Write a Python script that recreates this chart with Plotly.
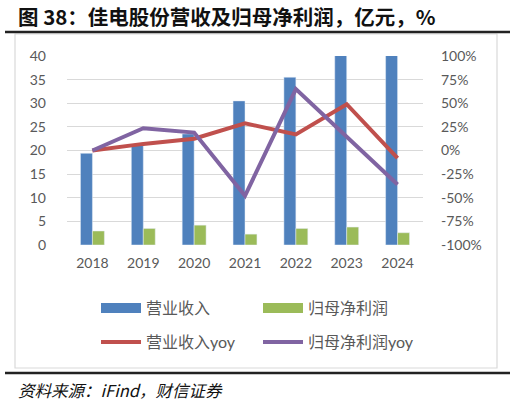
import plotly.graph_objects as go

years = ["2018", "2019", "2020", "2021", "2022", "2023", "2024"]
revenue = [19.4, 21.3, 23.5, 30.5, 35.5, 53.0, 49.0]          # 营业收入, 亿元 (2023/2024 exceed axis)
net_profit = [2.96, 3.5, 4.2, 2.3, 3.5, 3.8, 2.6]             # 归母净利润, 亿元
revenue_yoy = [0.0, 7.0, 12.5, 28.8, 17.0, 49.0, -8.0]        # 营业收入yoy, %
profit_yoy = [0.0, 23.5, 19.0, -48.0, 65.0, 14.6, -36.0]      # 归母净利润yoy, %
left_ticks = [0, 5, 10, 15, 20, 25, 30, 35, 40]
right_ticks = [-100, -75, -50, -25, 0, 25, 50, 75, 100]
right_labels = [f"{v}%" for v in right_ticks]

BLUE, GREEN, RED, PURPLE = "#4F81BD", "#9BBB59", "#C0504D", "#8064A2"
GRAY = "#595959"
FONT = "Lato, Noto Sans CJK SC"

W, H = 515, 405
L, R, T, B = 67, 92, 56, 160
PW, PH = W - L - R, H - T - B


def px(x):
    return (x - L) / PW


def py(y):
    return (H - B - y) / PH


fig = go.Figure()
fig.add_bar(x=years, y=revenue, marker_color=BLUE, showlegend=False, name="营业收入")
fig.add_bar(x=years, y=net_profit, marker_color=GREEN, showlegend=False, name="归母净利润")
fig.add_scatter(x=years, y=revenue_yoy, yaxis="y2", mode="lines",
                line=dict(color=RED, width=4), showlegend=False, name="营业收入yoy")
fig.add_scatter(x=years, y=profit_yoy, yaxis="y2", mode="lines",
                line=dict(color=PURPLE, width=4), showlegend=False, name="归母净利润yoy")

# legend entries
fig.add_scatter(x=[None], y=[None], mode="lines", line=dict(color=BLUE, width=10),
                name="营业收入", legend="legend")
fig.add_scatter(x=[None], y=[None], mode="lines", line=dict(color=GREEN, width=10),
                name="归母净利润", legend="legend")
fig.add_scatter(x=[None], y=[None], mode="lines", line=dict(color=RED, width=4),
                name="营业收入yoy", legend="legend2")
fig.add_scatter(x=[None], y=[None], mode="lines", line=dict(color=PURPLE, width=4),
                name="归母净利润yoy", legend="legend2")

legend_common = dict(orientation="h", xanchor="left", yanchor="middle",
                     font=dict(family=FONT, size=16, color=GRAY),
                     bgcolor="rgba(0,0,0,0)", entrywidth=107, itemwidth=40,
                     traceorder="normal")

fig.update_layout(
    width=W, height=H,
    margin=dict(l=L, r=R, t=T, b=B),
    paper_bgcolor="white", plot_bgcolor="white",
    barmode="group", bargap=0.53, bargroupgap=0,
    font=dict(family=FONT, size=14, color=GRAY),
    xaxis=dict(type="category", showgrid=False, showline=False, ticks="",
               tickfont=dict(size=14, color=GRAY), ticklabelstandoff=8),
    yaxis=dict(range=[0, 40], tickvals=left_ticks, showgrid=True,
               gridcolor="#D9D9D9", gridwidth=1.3, zeroline=False,
               showline=False, ticks="", ticklabelstandoff=20,
               tickfont=dict(size=14, color=GRAY)),
    yaxis2=dict(range=[-100, 100], tickmode="array", tickvals=right_ticks,
                ticktext=right_labels,
                overlaying="y", side="right", showgrid=False, zeroline=False,
                showline=False, ticks="", ticklabelstandoff=17,
                tickfont=dict(size=14, color=GRAY)),
    legend=dict(x=px(96), y=py(308), **legend_common),
    legend2=dict(x=px(96), y=py(342), **legend_common),
    shapes=[
        dict(type="rect", xref="paper", yref="paper", x0=px(15), x1=px(497),
             y0=py(34), y1=py(368), line=dict(color="#D9D9D9", width=1.2),
             fillcolor="rgba(0,0,0,0)", layer="below"),
        dict(type="line", xref="paper", yref="paper", x0=px(5), x1=px(510),
             y0=py(32), y1=py(32), line=dict(color="#222222", width=2.5)),
        dict(type="line", xref="paper", yref="paper", x0=px(5), x1=px(510),
             y0=py(373), y1=py(373), line=dict(color="#222222", width=2.5)),
    ],
    annotations=[
        dict(text="<b>图 38：佳电股份营收及归母净利润，亿元，%</b>", xref="paper", yref="paper",
             x=px(16), y=py(16), xanchor="left", yanchor="middle", showarrow=False,
             font=dict(family="Noto Sans CJK SC", size=20.5, color="#111111")),
        dict(text="资料来源：iFind，财信证券", xref="paper", yref="paper",
             x=px(16), y=py(390), xanchor="left", yanchor="middle", showarrow=False,
             font=dict(family="Noto Sans CJK SC", size=16.5, color="#111111", style="italic")),
    ],
)

fig.write_html("out.html", config={"displayModeBar": False},
               post_script="document.body.style.margin='0';")
